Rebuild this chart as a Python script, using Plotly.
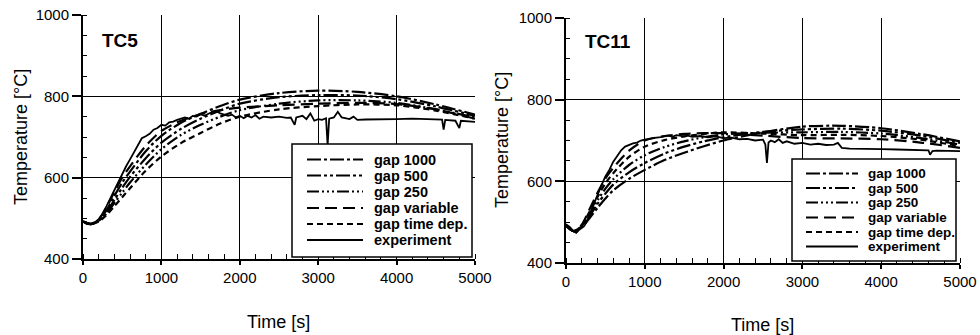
import plotly.graph_objects as go

# ---------------- data: TC5 ----------------
t_model = [0, 100, 200, 300, 400, 500, 600, 800, 1000, 1250, 1500, 1750, 2000, 2500, 3000, 3500, 4000, 4500, 5000]

tc5_gap1000 = [492, 486, 495, 520, 555, 588, 615, 665, 703, 735, 757, 776, 792, 808, 814, 811, 800, 780, 755]
tc5_gap500 = [492, 486, 494, 515, 545, 575, 602, 648, 686, 720, 745, 765, 782, 798, 803, 802, 793, 775, 752]
tc5_gap250 = [492, 486, 493, 512, 538, 563, 588, 632, 670, 705, 730, 750, 766, 782, 790, 790, 784, 768, 748]
tc5_gapvar = [492, 487, 497, 527, 565, 600, 628, 678, 715, 740, 756, 766, 772, 778, 782, 784, 781, 768, 745]
tc5_gaptime = [492, 486, 492, 508, 530, 552, 574, 617, 652, 685, 710, 733, 750, 768, 776, 780, 778, 765, 745]

tc5_exp_t = [0, 50, 100, 150, 200, 250, 300, 350, 400, 450, 500, 550, 600, 650, 700, 750, 800, 850, 900, 950,
             1000, 1050, 1100, 1150, 1200, 1250, 1300, 1350, 1400, 1450, 1500, 1550, 1600, 1650, 1700, 1750,
             1800, 1850, 1900, 1950, 2000, 2050, 2100, 2150, 2200, 2250, 2300, 2400, 2500, 2600, 2650, 2700,
             2720, 2800, 2850, 2900, 2950, 3000, 3050, 3100, 3120, 3140, 3200, 3250, 3300, 3350, 3400, 3450,
             3500, 3600, 3700, 3800, 4000, 4200, 4400, 4580, 4600, 4620, 4750, 4800, 4820, 5000]
tc5_exp_v = [492, 486, 485, 490, 498, 512, 530, 550, 572, 592, 610, 628, 645, 662, 680, 697, 702, 708, 718, 722,
             730, 728, 736, 738, 742, 745, 748, 745, 752, 750, 756, 752, 758, 762, 764, 758,
             755, 752, 755, 748, 752, 746, 752, 748, 754, 745, 750, 748, 750, 747, 748, 730,
             748, 752, 744, 758, 740, 744, 742, 746, 680, 745, 748, 762, 748, 746, 744, 750,
             742, 743, 743, 743, 744, 745, 744, 743, 718, 742, 740, 722, 740, 737]

# ---------------- data: TC11 ----------------
tc11_gap1000 = [492, 478, 488, 510, 535, 558, 578, 606, 628, 652, 670, 686, 700, 720, 734, 736, 730, 716, 698]
tc11_gap500 = [492, 478, 490, 515, 545, 570, 592, 622, 645, 668, 685, 698, 708, 721, 727, 729, 724, 712, 694]
tc11_gap250 = [492, 478, 491, 520, 553, 582, 605, 640, 664, 684, 698, 708, 715, 719, 720, 721, 717, 706, 690]
tc11_gapvar = [492, 478, 494, 532, 572, 607, 633, 675, 700, 711, 716, 718, 718, 712, 706, 705, 703, 695, 682]
tc11_gaptime = [492, 478, 492, 526, 562, 595, 620, 660, 685, 701, 710, 716, 720, 717, 713, 714, 711, 702, 686]

tc11_exp_t = [0, 50, 100, 130, 160, 200, 230, 260, 300, 350, 400, 450, 500, 550, 600, 650, 700, 750, 800, 850,
              900, 950, 1000, 1100, 1200, 1300, 1350, 1400, 1500, 1550, 1600, 1700, 1800, 1900, 2000, 2100,
              2200, 2300, 2400, 2500, 2530, 2550, 2570, 2600, 2650, 2700, 2750, 2800, 2900, 3000, 3100, 3200,
              3300, 3400, 3450, 3500, 3600, 3800, 4000, 4200, 4400, 4600, 4620, 4650, 4700, 5000]
tc11_exp_v = [495, 488, 477, 474, 480, 485, 490, 500, 520, 545, 568, 590, 612, 628, 648, 663, 676, 685, 690, 693,
              695, 700, 702, 706, 708, 712, 709, 713, 710, 712, 709, 711, 708, 710, 706, 707,
              703, 704, 700, 702, 690, 645, 695, 700, 696, 703, 694, 698, 692, 694, 690, 692,
              689, 690, 694, 682, 680, 680, 679, 678, 677, 676, 665, 674, 675, 674]

series_names = ["gap 1000", "gap 500", "gap 250", "gap variable", "gap time dep.", "experiment"]
dashes = ["14px,3px,3px,3px", "14px,3px,3px,3px,3px,3px", "12px,3px,2px,3px,2px,3px,2px,3px",
          "12px,6px", "6px,4px", "solid"]

x_ticks = [0, 1000, 2000, 3000, 4000, 5000]
y_ticks = [400, 600, 800, 1000]

FONT = "Liberation Sans, Arial, sans-serif"
W, H = 980, 335

def px(x):
    return x / W

def py(y):
    return 1 - y / H

fig = go.Figure()

def add_panel(models, exp_t, exp_v, xa, ya):
    for name, vals, d in zip(series_names[:5], models, dashes[:5]):
        fig.add_trace(go.Scatter(x=t_model, y=vals, mode="lines", name=name, showlegend=False,
                                 line=dict(color="black", width=2.2, dash=d, shape="spline", smoothing=0.8),
                                 xaxis=xa, yaxis=ya))
    fig.add_trace(go.Scatter(x=exp_t, y=exp_v, mode="lines", name=series_names[5], showlegend=False,
                             line=dict(color="black", width=1.8, dash="solid"),
                             xaxis=xa, yaxis=ya))

add_panel([tc5_gap1000, tc5_gap500, tc5_gap250, tc5_gapvar, tc5_gaptime], tc5_exp_t, tc5_exp_v, "x", "y")
add_panel([tc11_gap1000, tc11_gap500, tc11_gap250, tc11_gapvar, tc11_gaptime], tc11_exp_t, tc11_exp_v, "x2", "y2")

L_dom_x = [px(83), px(475)]
L_dom_y = [py(259), py(15)]
R_dom_x = [px(566), px(960)]
R_dom_y = [py(263), py(18)]

def xaxis_main(dom, anchor):
    return dict(domain=dom, anchor=anchor, range=[0, 5000], tickvals=x_ticks, automargin=False,
                ticks="outside", ticklen=4, tickwidth=1.5, tickcolor="black",
                showline=True, linecolor="black", linewidth=2,
                showgrid=True, gridcolor="black", gridwidth=1, zeroline=False,
                minor=dict(dtick=200, tick0=0, ticks="inside", ticklen=5, tickcolor="black", tickwidth=1.2, showgrid=False),
                tickfont=dict(family=FONT, size=15, color="black"))

def yaxis_main(dom, anchor):
    return dict(domain=dom, anchor=anchor, range=[400, 1000], tickvals=y_ticks, automargin=False,
                ticks="outside", ticklen=9, tickwidth=1.5, tickcolor="black",
                showline=True, linecolor="black", linewidth=2,
                showgrid=True, gridcolor="black", gridwidth=1, zeroline=False,
                minor=dict(dtick=50, tick0=0, ticks="inside", ticklen=4, tickcolor="black", tickwidth=1.2, showgrid=False),
                tickfont=dict(family=FONT, size=15, color="black"))

def mirror_x(dom, anchor, over):
    return dict(domain=dom, anchor=anchor, overlaying=over, side="top", range=[0, 5000], tickvals=x_ticks,
                automargin=False, ticks="inside", ticklen=6, tickcolor="black", tickwidth=1.5, showticklabels=False,
                showline=True, linecolor="black", linewidth=2, showgrid=False, zeroline=False,
                minor=dict(dtick=200, tick0=0, ticks="inside", ticklen=5, tickcolor="black", tickwidth=1.2))

def mirror_y(dom, anchor, over):
    return dict(domain=dom, anchor=anchor, overlaying=over, side="right", range=[400, 1000], tickvals=y_ticks,
                automargin=False, ticks="inside", ticklen=6, tickcolor="black", tickwidth=1.5, showticklabels=False,
                showline=True, linecolor="black", linewidth=2, showgrid=False, zeroline=False,
                minor=dict(dtick=50, tick0=0, ticks="inside", ticklen=5, tickcolor="black", tickwidth=1.2))

# ---- hand-built legend boxes (shapes + text annotations) ----
shapes = []
annotations = []

def build_legend(box, rows_y, line_x0, line_x1, text_x, fsize):
    shapes.append(dict(type="rect", xref="paper", yref="paper", x0=px(box[0]), x1=px(box[1]),
                       y0=py(box[3]), y1=py(box[2]), line=dict(color="black", width=1.5), fillcolor="white",
                       layer="above"))
    for name, d, ry in zip(series_names, dashes, rows_y):
        shapes.append(dict(type="line", xref="paper", yref="paper", x0=px(line_x0), x1=px(line_x1),
                           y0=py(ry), y1=py(ry), line=dict(color="black", width=2.2, dash=d), layer="above"))
        annotations.append(dict(text="<b>" + name + "</b>", x=px(text_x), y=py(ry), xref="paper", yref="paper",
                                xanchor="left", yanchor="middle", showarrow=False,
                                font=dict(family=FONT, size=fsize, color="black")))

build_legend((292, 472, 144, 257), [159.5, 175.5, 191.5, 208, 224, 240], 307, 363, 372, 14.5)
build_legend((792, 956, 159, 261), [173.5, 188, 202.5, 217.5, 232, 246.5], 806, 858, 866, 13.5)

annotations += [
    dict(text="<b>TC5</b>", x=px(100), y=py(40), xref="paper", yref="paper", xanchor="left", yanchor="middle",
         showarrow=False, font=dict(family=FONT, size=19, color="black")),
    dict(text="<b>TC11</b>", x=px(583), y=py(42), xref="paper", yref="paper", xanchor="left", yanchor="middle",
         showarrow=False, font=dict(family=FONT, size=19, color="black")),
    dict(text="Temperature [°C]", x=px(21), y=py(137), xref="paper", yref="paper", textangle=-90,
         xanchor="center", yanchor="middle", showarrow=False, font=dict(family=FONT, size=18, color="black")),
    dict(text="Temperature [°C]", x=px(502), y=py(140), xref="paper", yref="paper", textangle=-90,
         xanchor="center", yanchor="middle", showarrow=False, font=dict(family=FONT, size=18, color="black")),
    dict(text="Time [s]", x=px(278), y=py(322), xref="paper", yref="paper",
         xanchor="center", yanchor="middle", showarrow=False, font=dict(family=FONT, size=18, color="black")),
    dict(text="Time [s]", x=px(762), y=py(325), xref="paper", yref="paper",
         xanchor="center", yanchor="middle", showarrow=False, font=dict(family=FONT, size=18, color="black")),
]

fig.update_layout(
    width=W, height=H, margin=dict(l=0, r=0, t=0, b=0, autoexpand=False),
    paper_bgcolor="white", plot_bgcolor="white",
    showlegend=False,
    xaxis=xaxis_main(L_dom_x, "y"),
    yaxis=yaxis_main(L_dom_y, "x"),
    xaxis2=xaxis_main(R_dom_x, "y2"),
    yaxis2=yaxis_main(R_dom_y, "x2"),
    xaxis3=mirror_x(L_dom_x, "y", "x"),
    yaxis3=mirror_y(L_dom_y, "x", "y"),
    xaxis4=mirror_x(R_dom_x, "y2", "x2"),
    yaxis4=mirror_y(R_dom_y, "x2", "y2"),
    shapes=shapes,
    annotations=annotations,
)

fig.write_html("out.html", config={"displayModeBar": False},
               post_script="document.body.style.margin='0';document.body.style.overflow='hidden';")
